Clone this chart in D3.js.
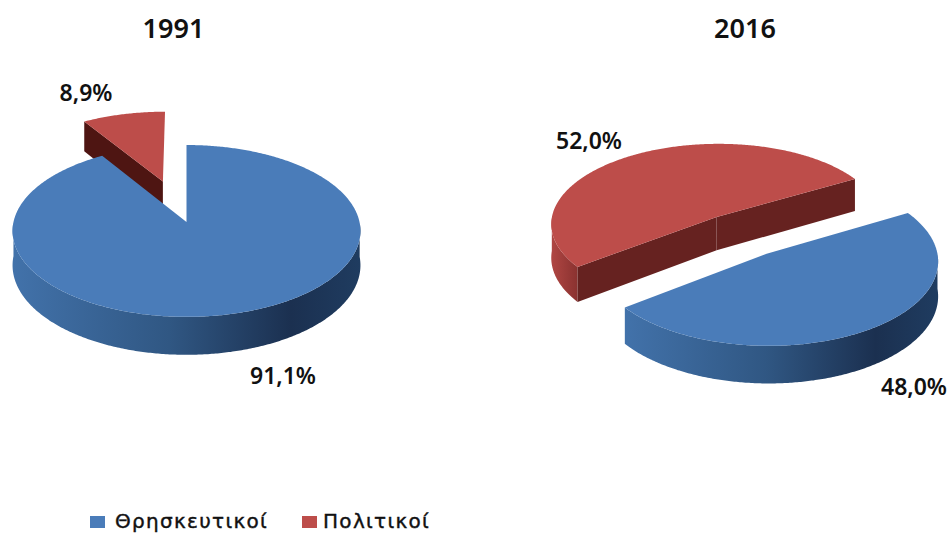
<!DOCTYPE html>
<html>
<head>
<meta charset="utf-8">
<script src="https://cdnjs.cloudflare.com/ajax/libs/d3/7.8.5/d3.min.js"></script>
<style>
    body { margin: 0; background: #fff; }
    text { font-family: "Noto Sans", sans-serif; fill: #111; }
</style>
</head>
<body>
<div id="chart"></div>
<script>
const categories = ["Θρησκευτικοί", "Πολιτικοί"];
const years = ["1991", "2016"];
const shares1991 = [91.1, 8.9];
const shares2016 = [48.0, 52.0];
const labels1991 = ["91,1%", "8,9%"];
const labels2016 = ["48,0%", "52,0%"];

const width = 952;
const height = 533;
const rad = Math.PI / 180;

const topColor = d3.scaleOrdinal().domain(categories).range(["#4a7cb9", "#bd4d4a"]);

const svg = d3.select("#chart").append("svg")
    .attr("width", width)
    .attr("height", height);

const defs = svg.append("defs");

function addGradient(id, stops) {
    const g = defs.append("linearGradient").attr("id", id);
    stops.forEach(s => g.append("stop").attr("offset", s[0]).attr("stop-color", s[1]));
}
addGradient("wall0", [[0, "#4272aa"], [0.45, "#305783"], [0.8, "#1b3050"], [1, "#1f3c60"]]);
addGradient("wall1", [[0, "#b04643"], [1, "#8a3230"]]);

const pies = [
    { year: years[0], values: shares1991, labels: labels1991, start: 0, explode: [0, 0.52],
      ox: 186.5, oy: 222, rx: 173, ry: 85, k: 0.104, depth: 34, faces: "#4e1512",
      titleX: 173.5, labelPos: [[283, 384], [86, 101]] },
    { year: years[1], values: shares2016, labels: labels2016, start: 60, explode: [0.24, 0.3],
      ox: 744, oy: 237, rx: 168, ry: 82, k: 0.08, depth: 34, faces: "#662220",
      titleX: 745, labelPos: [[914, 395], [589, 149]] },
];

const line = d3.line();

function drawPie(p) {
    const pie = d3.pie().sort(null)
        .startAngle(p.start * rad)
        .endAngle(p.start * rad + 2 * Math.PI);
    const arcs = pie(p.values);

    function project(X, Y, z) {
        const f = 1 / (1 + p.k * Y);
        return [p.ox + p.rx * X * f, p.oy - p.ry * Y * f + z * p.depth * f];
    }

    const g = svg.append("g");

    // back slice first, the other one covers it
    const order = arcs.map((d, i) => i).sort((a, b) => p.explode[b] - p.explode[a]);
    order.forEach(i => {
        const d = arcs[i];
        const mid = (d.startAngle + d.endAngle) / 2;
        const ex = p.explode[i] * Math.sin(mid);
        const ey = p.explode[i] * Math.cos(mid);
        const rim = (a, z) => project(ex + Math.sin(a), ey + Math.cos(a), z);
        const apex = z => project(ex, ey, z);
        const angles = d3.range(d.startAngle, d.endAngle, 0.01).concat([d.endAngle]);

        // outer wall, only the part turned to the viewer
        const front = angles.filter(a => Math.cos(a) <= 0);
        if (front.length > 1) {
            const pts = front.map(a => rim(a, 0)).concat(front.slice().reverse().map(a => rim(a, 1)));
            g.append("path").attr("d", line(pts) + "Z").attr("fill", "url(#wall" + i + ")");
        }

        // cut faces
        const cuts = [
            [d.startAngle, -Math.sin(d.startAngle)],
            [d.endAngle, Math.sin(d.endAngle)],
        ];
        cuts.forEach(c => {
            if (c[1] <= 0.01) return;
            const pts = [apex(0), rim(c[0], 0), rim(c[0], 1), apex(1)];
            g.append("path").attr("d", line(pts) + "Z").attr("fill", p.faces);
        });

        // top face
        const pts = [apex(0)].concat(angles.map(a => rim(a, 0)));
        g.append("path").attr("d", line(pts) + "Z").attr("fill", topColor(categories[i]));
    });

    svg.append("text")
        .attr("x", p.titleX).attr("y", 38)
        .attr("text-anchor", "middle")
        .attr("font-size", 27).attr("font-weight", 600)
        .text(p.year);

    svg.selectAll(null)
        .data(p.labels)
        .enter().append("text")
        .attr("x", (d, i) => p.labelPos[i][0])
        .attr("y", (d, i) => p.labelPos[i][1])
        .attr("text-anchor", "middle")
        .attr("font-size", 23).attr("font-weight", 600)
        .text(d => d);
}

pies.forEach(drawPie);

// legend
const legendX = d3.scaleOrdinal().domain(categories).range([90, 302]);

const legend = svg.selectAll(".legend")
    .data(categories)
    .enter().append("g")
    .attr("class", "legend")
    .attr("transform", d => "translate(" + legendX(d) + ",516)");

legend.append("rect")
    .attr("width", 15)
    .attr("height", 12)
    .attr("fill", d => topColor(d));

legend.append("text")
    .attr("x", (d, i) => i === 0 ? 25 : 21)
    .attr("y", 12)
    .attr("font-size", 20)
    .attr("letter-spacing", 1.3)
    .attr("stroke", "#111")
    .attr("stroke-width", 0.4)
    .style("font-family", "'DejaVu Sans', sans-serif")
    .text(d => d);
</script>
</body>
</html>
